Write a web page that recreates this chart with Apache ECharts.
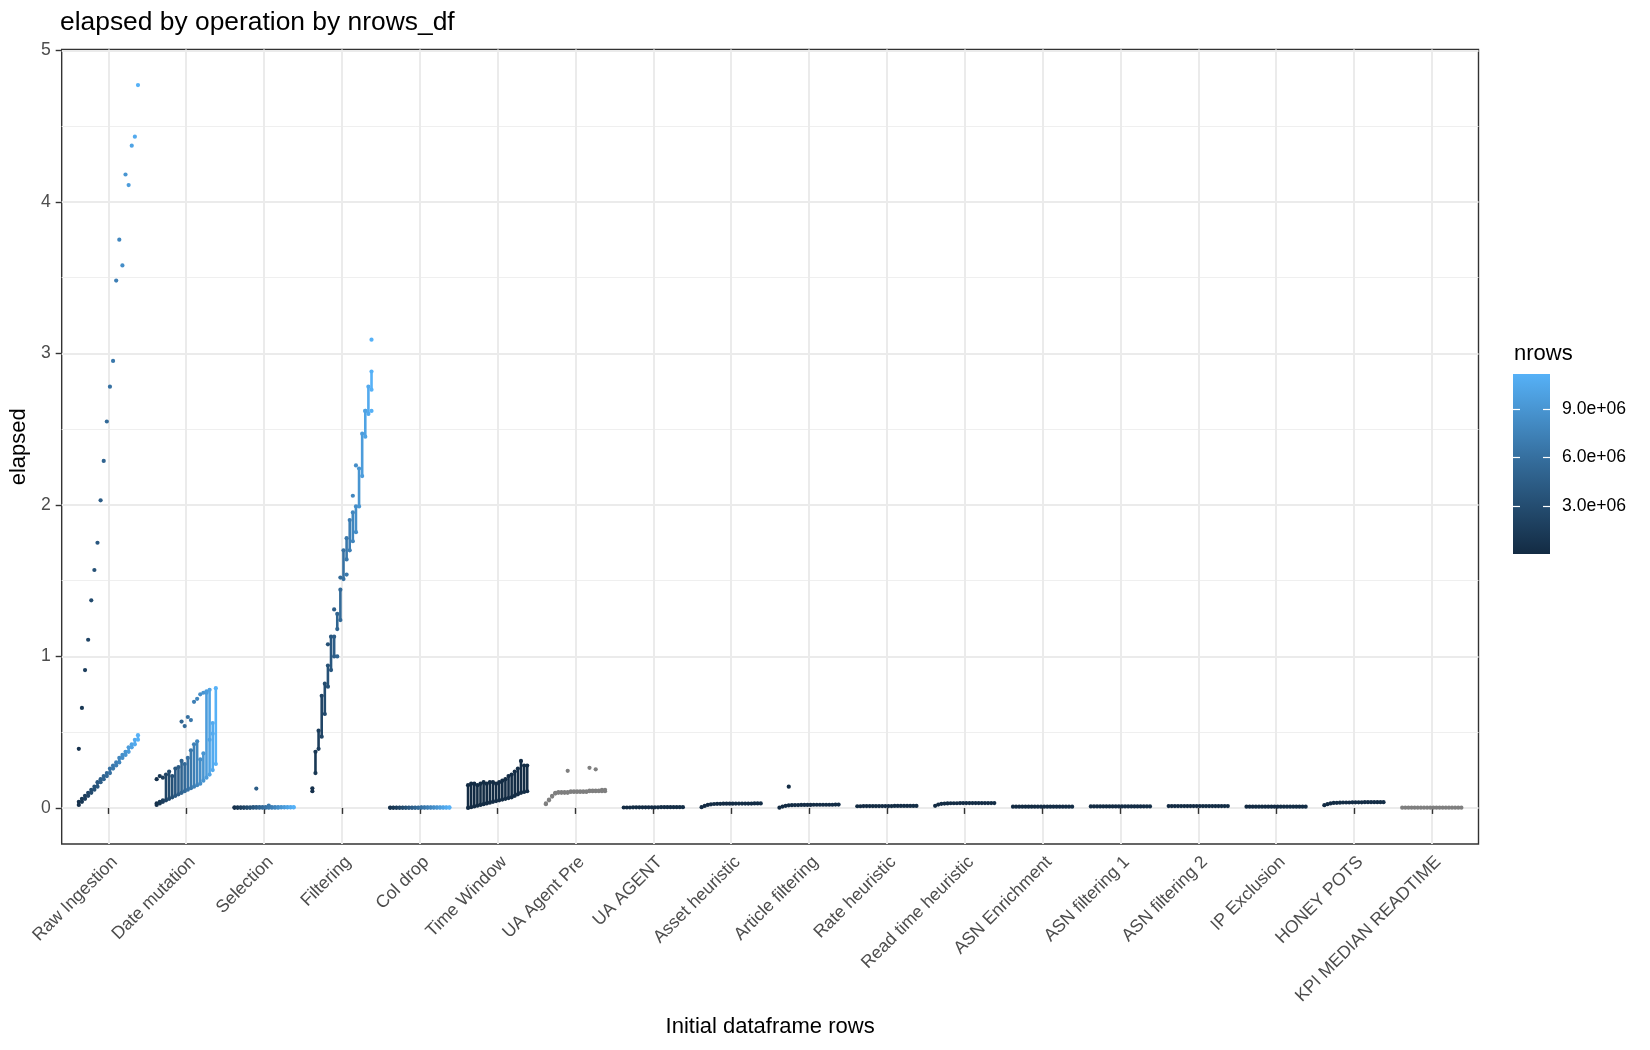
<!DOCTYPE html>
<html><head><meta charset="utf-8">
<script src="https://cdn.jsdelivr.net/npm/echarts@6/dist/echarts.min.js"></script>
<style>html,body{margin:0;padding:0;background:#fff}#chart{width:1650px;height:1050px}</style>
</head><body><div id="chart"></div>
<script>
// ---------------- data ----------------
const categories = ['Raw Ingestion','Date mutation','Selection','Filtering','Col drop','Time Window','UA Agent Pre','UA AGENT','Asset heuristic','Article filtering','Rate heuristic','Read time heuristic','ASN Enrichment','ASN filtering 1','ASN filtering 2','IP Exclusion','HONEY POTS','KPI MEDIAN READTIME'];
const nrowsInitial = [560000,1120000,1680000,2240000,2800000,3360000,3920000,4480000,5040000,5600000,6160000,6720000,7280000,7840000,8400000,8960000,9520000,10080000,10640000,11200000];
const nrowsFiltered = [12000,24000,36000,48000,60000,72000,84000,96000,108000,120000,132000,144000,156000,168000,180000,192000,204000,216000,228000,240000];
const colourSource = ['initial','initial','initial','initial','initial','filtered','na','filtered','filtered','filtered','filtered','filtered','filtered','filtered','filtered','filtered','filtered','na'];
const yTicks = [0,1,2,3,4,5];
const yMinorTicks = [0.5,1.5,2.5,3.5,4.5];
const legendTicks = [3000000,6000000,9000000];
const nrowsScaleMax = 11200000;

const rawIngestionLow  = [0.02,0.04,0.06,0.08,0.10,0.12,0.14,0.17,0.19,0.21,0.23,0.26,0.28,0.30,0.33,0.35,0.37,0.40,0.42,0.45];
const rawIngestionHigh = [0.04,0.06,0.08,0.10,0.12,0.14,0.17,0.19,0.21,0.23,0.26,0.28,0.30,0.33,0.35,0.37,0.40,0.42,0.45,0.48];
const rawIngestionOutliers = [[0,0.39],[1,0.66],[2,0.91],[3,1.11],[4,1.37],[5,1.57],[6,1.75],[7,2.03],[8,2.29],[9,2.55],[10,2.78],[11,2.95],[12,3.48],[13,3.75],[14,3.58],[15,4.18],[16,4.11],[17,4.37],[18,4.43],[19,4.77]];

const dateMutationLow  = [0.02,0.03,0.04,0.05,0.06,0.07,0.08,0.09,0.10,0.11,0.12,0.13,0.14,0.15,0.16,0.18,0.20,0.22,0.25,0.29];
const dateMutationHigh = [0.03,0.04,0.05,0.22,0.24,0.21,0.26,0.27,0.31,0.29,0.33,0.38,0.42,0.44,0.32,0.36,0.76,0.78,0.56,0.79];
const dateMutationOutliers = [[0,0.19],[1,0.21],[2,0.20],[8,0.57],[9,0.54],[10,0.60],[11,0.58],[12,0.70],[13,0.72],[14,0.75],[15,0.76],[16,0.77],[17,0.45],[18,0.49]];

const selectionLow  = [0.001,0.001,0.001,0.001,0.001,0.001,0.002,0.002,0.002,0.002,0.002,0.002,0.002,0.002,0.002,0.003,0.003,0.003,0.003,0.003];
const selectionHigh = [0.004,0.004,0.004,0.004,0.004,0.004,0.005,0.005,0.005,0.005,0.005,0.005,0.005,0.005,0.005,0.006,0.006,0.006,0.006,0.006];
const selectionOutliers = [[7,0.128],[11,0.015]];

const filteringLow  = [0.11,0.23,0.39,0.47,0.62,0.80,0.91,1.00,1.18,1.24,1.51,1.64,1.70,1.76,1.82,1.99,2.19,2.45,2.60,2.76];
const filteringHigh = [0.13,0.37,0.51,0.74,0.82,0.94,1.13,1.13,1.28,1.44,1.70,1.78,1.90,1.95,1.99,2.24,2.47,2.62,2.78,2.88];
const filteringOutliers = [[5,1.08],[7,1.31],[8,1.00],[9,1.52],[11,1.54],[13,2.06],[14,2.26],[17,2.62],[19,2.62],[19,3.09]];

const colDropLow  = [0.001,0.001,0.001,0.001,0.001,0.001,0.001,0.001,0.001,0.001,0.002,0.002,0.002,0.002,0.002,0.002,0.002,0.002,0.002,0.002];
const colDropHigh = [0.003,0.003,0.003,0.003,0.003,0.003,0.003,0.003,0.003,0.003,0.004,0.004,0.004,0.004,0.004,0.004,0.004,0.004,0.004,0.004];

const timeWindowLow  = [0.000,0.005,0.010,0.015,0.020,0.025,0.030,0.035,0.040,0.045,0.050,0.055,0.060,0.065,0.070,0.080,0.090,0.100,0.105,0.110];
const timeWindowHigh = [0.15,0.16,0.16,0.15,0.16,0.17,0.16,0.17,0.17,0.16,0.17,0.18,0.19,0.21,0.22,0.24,0.26,0.31,0.28,0.28];

const uaAgentPreLow  = [0.025,0.050,0.075,0.095,0.100,0.100,0.100,0.100,0.105,0.105,0.105,0.105,0.105,0.105,0.110,0.110,0.110,0.110,0.110,0.110];
const uaAgentPreHigh = [0.030,0.055,0.080,0.100,0.105,0.105,0.105,0.105,0.110,0.110,0.110,0.110,0.110,0.110,0.115,0.115,0.115,0.115,0.120,0.120];
const uaAgentPreOutliers = [[7,0.245],[14,0.265],[16,0.255]];

const uaAgentLow = [0.003,0.003,0.003,0.004,0.004,0.004,0.004,0.004,0.004,0.004,0.004,0.004,0.005,0.005,0.005,0.005,0.005,0.005,0.005,0.005];
const assetHeuristicLow = [0.005,0.013,0.020,0.024,0.026,0.027,0.027,0.028,0.028,0.028,0.028,0.029,0.029,0.029,0.029,0.029,0.029,0.030,0.030,0.030];
const articleFilteringLow = [0.002,0.009,0.014,0.017,0.018,0.019,0.019,0.020,0.020,0.020,0.020,0.021,0.021,0.021,0.021,0.021,0.021,0.021,0.022,0.022];
const articleFilteringOutliers = [[3,0.14]];
const rateHeuristicLow = [0.011,0.011,0.012,0.012,0.012,0.012,0.012,0.012,0.012,0.012,0.012,0.012,0.013,0.013,0.013,0.013,0.013,0.013,0.013,0.013];
const readTimeHeuristicLow = [0.014,0.022,0.027,0.029,0.030,0.031,0.031,0.031,0.032,0.032,0.032,0.032,0.032,0.032,0.032,0.032,0.032,0.032,0.032,0.032];
const asnEnrichmentLow = [0.008,0.008,0.008,0.008,0.008,0.008,0.008,0.008,0.008,0.008,0.008,0.008,0.008,0.008,0.008,0.008,0.008,0.008,0.008,0.008];
const asnFiltering1Low = [0.010,0.010,0.010,0.010,0.010,0.010,0.010,0.010,0.010,0.010,0.010,0.010,0.010,0.010,0.010,0.010,0.010,0.010,0.010,0.010];
const asnFiltering2Low = [0.012,0.012,0.012,0.012,0.012,0.012,0.012,0.012,0.012,0.012,0.012,0.012,0.012,0.012,0.012,0.012,0.012,0.012,0.012,0.012];
const ipExclusionLow = [0.008,0.008,0.008,0.008,0.008,0.008,0.008,0.008,0.008,0.008,0.008,0.008,0.008,0.008,0.008,0.008,0.008,0.008,0.008,0.008];
const honeyPotsLow = [0.018,0.025,0.030,0.033,0.034,0.035,0.036,0.036,0.036,0.037,0.037,0.037,0.037,0.038,0.038,0.038,0.038,0.038,0.038,0.038];
const kpiMedianReadtimeLow = [0.002,0.002,0.002,0.002,0.002,0.002,0.002,0.002,0.002,0.002,0.002,0.002,0.002,0.002,0.002,0.002,0.002,0.002,0.002,0.002];

const seriesLow = [rawIngestionLow,dateMutationLow,selectionLow,filteringLow,colDropLow,timeWindowLow,uaAgentPreLow,uaAgentLow,assetHeuristicLow,articleFilteringLow,rateHeuristicLow,readTimeHeuristicLow,asnEnrichmentLow,asnFiltering1Low,asnFiltering2Low,ipExclusionLow,honeyPotsLow,kpiMedianReadtimeLow];
const seriesHigh = [rawIngestionHigh,dateMutationHigh,selectionHigh,filteringHigh,colDropHigh,timeWindowHigh,uaAgentPreHigh,null,null,null,null,null,null,null,null,null,null,null];
const seriesOutliers = [rawIngestionOutliers,dateMutationOutliers,selectionOutliers,filteringOutliers,[],[],uaAgentPreOutliers,[],[],articleFilteringOutliers,[],[],[],[],[],[],[],[]];

// ---------------- build ----------------
const dodge = 0.8;
const points = [], strips = [];
categories.forEach((c, ci) => {
  const lo = seriesLow[ci], hi = seriesHigh[ci], n = lo.length;
  const nr = k => colourSource[ci] === 'initial' ? nrowsInitial[k] : (colourSource[ci] === 'filtered' ? nrowsFiltered[k] : -1);
  const xk = k => ci + 1 + (k - (n - 1) / 2) * dodge / n;
  lo.forEach((v, k) => {
    if (hi) strips.push([xk(k), v, nr(k), hi[k]]);
  });
  lo.forEach((v, k) => {
    points.push([xk(k), v, nr(k)]);
    if (hi) points.push([xk(k), hi[k], nr(k)]);
  });
  seriesOutliers[ci].forEach(([k, v]) => points.push([xk(k), v, nr(k)]));
});
const xTicks = categories.map((c, i) => i + 1);

const FONT = '"Liberation Sans", Arial, Helvetica, sans-serif';
const gradientStops = ['#132B43', '#336A98', '#56B1F7'];
const chart = echarts.init(document.getElementById('chart'), null, { renderer: 'canvas' });
const fmtSci = v => (v / 1e6).toFixed(1) + 'e+06';

chart.setOption({
  animation: false,
  backgroundColor: '#ffffff',
  title: [
    { text: 'elapsed by operation by nrows_df', left: 60, top: 10, padding: 0,
      textStyle: { fontFamily: FONT, fontSize: 26.4, fontWeight: 'normal', color: '#000' } },
    { text: 'nrows', left: 1514, top: 343, padding: 0,
      textStyle: { fontFamily: FONT, fontSize: 22, fontWeight: 'normal', color: '#000' } }
  ],
  grid: [
    { left: 61, top: 49.5, width: 1417.5, height: 794.5, show: true, borderColor: '#333333', borderWidth: 1.4, backgroundColor: '#ffffff' },
    { left: 1513, top: 374, width: 37, height: 180 }
  ],
  visualMap: {
    type: 'continuous', show: false, min: 0, max: nrowsScaleMax, range: [1, nrowsScaleMax], dimension: 2, seriesIndex: [0, 1],
    inRange: { color: gradientStops }, outOfRange: { color: '#7F7F7F' }
  },
  xAxis: [
    { type: 'value', gridIndex: 0, min: 0.4, max: 18.6,
      name: 'Initial dataframe rows', nameLocation: 'middle', nameGap: 172,
      nameTextStyle: { fontFamily: FONT, fontSize: 22, color: '#000' },
      axisLine: { show: false },
      axisTick: { show: true, customValues: xTicks, length: 6, lineStyle: { color: '#333333', width: 1.4 } },
      axisLabel: { customValues: xTicks, rotate: 45, margin: 9, verticalAlign: 'top', formatter: v => categories[Math.round(v) - 1],
        fontFamily: FONT, fontSize: 17.6, color: '#4D4D4D' },
      splitLine: { show: true, lineStyle: { color: '#EBEBEB', width: 2 } } },
    { type: 'category', gridIndex: 1, data: ['nrows'], show: false }
  ],
  yAxis: [
    { type: 'value', gridIndex: 0, min: -0.238, max: 5.005,
      name: 'elapsed', nameLocation: 'middle', nameGap: 29, nameRotate: 90,
      nameTextStyle: { fontFamily: FONT, fontSize: 22, color: '#000' },
      axisLine: { show: false },
      axisTick: { show: true, customValues: yTicks, length: 6, lineStyle: { color: '#333333', width: 1.4 } },
      axisLabel: { customValues: yTicks, margin: 11, fontFamily: FONT, fontSize: 17.6, color: '#4D4D4D' },
      splitLine: { show: true, lineStyle: { color: '#EBEBEB', width: 2 } } },
    { type: 'value', gridIndex: 0, min: -0.238, max: 5.005,
      axisLine: { show: false }, axisTick: { show: false, customValues: yMinorTicks },
      axisLabel: { show: false, customValues: yMinorTicks },
      splitLine: { show: true, lineStyle: { color: '#EFEFEF', width: 1 } } },
    { type: 'value', gridIndex: 1, min: 0, max: nrowsScaleMax, position: 'right', z: 10,
      axisLine: { show: false },
      axisTick: { show: true, inside: true, length: 7, customValues: legendTicks, lineStyle: { color: '#ffffff', width: 1.2 } },
      axisLabel: { customValues: legendTicks, margin: 12, formatter: fmtSci, fontFamily: FONT, fontSize: 17.6, color: '#000' },
      splitLine: { show: false } },
    { type: 'value', gridIndex: 1, min: 0, max: nrowsScaleMax, position: 'left', z: 10,
      axisLine: { show: false },
      axisTick: { show: true, inside: true, length: 7, customValues: legendTicks, lineStyle: { color: '#ffffff', width: 1.2 } },
      axisLabel: { show: false }, splitLine: { show: false } }
  ],
  series: [
    { type: 'custom', xAxisIndex: 0, yAxisIndex: 0, data: strips, z: 2, silent: true,
      encode: { x: 0, y: [1, 3] },
      renderItem: (params, api) => {
        const p1 = api.coord([api.value(0), api.value(1)]);
        const p2 = api.coord([api.value(0), api.value(3)]);
        return { type: 'line', shape: { x1: p1[0], y1: p1[1], x2: p2[0], y2: p2[1] },
          style: { stroke: api.visual('color'), lineWidth: 2.6, lineCap: 'round' } };
      } },
    { type: 'scatter', xAxisIndex: 0, yAxisIndex: 0, data: points, symbol: 'circle', symbolSize: 4.2, z: 3, silent: true,
      itemStyle: { opacity: 1 } },
    { type: 'bar', xAxisIndex: 1, yAxisIndex: 2, data: [nrowsScaleMax], barWidth: '100%', silent: true, z: 2,
      itemStyle: { color: new echarts.graphic.LinearGradient(0, 1, 0, 0, [
        { offset: 0, color: gradientStops[0] }, { offset: 0.5, color: gradientStops[1] }, { offset: 1, color: gradientStops[2] }]) } }
  ]
});
</script></body></html>
